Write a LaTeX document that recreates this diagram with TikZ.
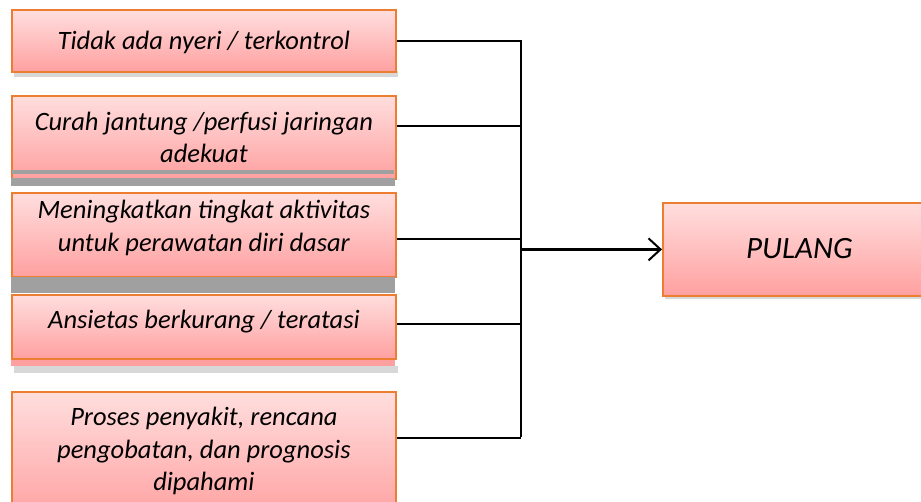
\documentclass[tikz,border=0pt]{standalone}
\usepackage{fontspec}
\setmainfont{Carlito}
\usetikzlibrary{arrows.meta}
\definecolor{boxline}{RGB}{237,125,49}
\definecolor{boxtop}{RGB}{255,222,222}
\definecolor{boxbottom}{RGB}{255,160,160}
\definecolor{darkshade}{RGB}{160,160,160}
\definecolor{lightshade}{RGB}{216,216,216}

\begin{document}
\begin{tikzpicture}[
      x = 1pt, y = -1pt,
      link/.style={line width = 2.6pt, black},
      goal/.style={
        draw = boxline,
        line width = 1.8pt,
        top color = boxtop,
        bottom color = boxbottom,
        align = center,
        font = \fontsize{26.5}{32.5}\selectfont\itshape,
        inner sep = 0pt,
        text height = 18pt,
        text depth = 0pt,
        minimum width = 384pt,
        anchor = north west,
      },
    ]
    \useasboundingbox (0, 0) rectangle (921, 502);
    \clip (0, 0) rectangle (921, 502);

    % shadows and grey strips behind the boxes
    \fill[lightshade] (14, 71) rectangle (398, 77);
    \fill[lightshade] (14, 366) rectangle (398, 373);
    \fill[lightshade] (665, 295) rectangle (921, 299);

    \node[goal, minimum height = 62pt] (tidak) at (11, 9)
      {Tidak ada nyeri / terkontrol};
    \node[goal, minimum height = 83pt, text height = 50.5pt] (curah) at (11, 95)
      {Curah jantung /perfusi jaringan\\adekuat};
    \fill[darkshade] (12, 170) rectangle (394, 174);
    \fill[darkshade] (11, 178) rectangle (395, 186);

    \node[goal, minimum height = 84pt, text height = 50.5pt, text depth = 17.5pt]
      (aktivitas) at (11, 192)
      {Meningkatkan tingkat aktivitas\\untuk perawatan diri dasar};
    \fill[darkshade] (11, 277) rectangle (395, 293);

    \fill[boxbottom] (11, 352) rectangle (395, 366);
    \node[goal, minimum height = 64pt, text depth = 14pt] (ansietas) at (11, 294)
      {Ansietas berkurang / teratasi};

    \node[goal, minimum height = 129pt, text height = 83pt, text depth = 14pt]
      (proses) at (11, 391)
      {Proses penyakit, rencana\\pengobatan, dan prognosis\\dipahami};

    \node[goal, minimum width = 273pt, minimum height = 93pt,
          font = \fontsize{31}{34}\selectfont\itshape] (pulang) at (662, 202)
      {PULANG};

    \coordinate (bustop) at (521, 40);
    \coordinate (busend) at (521, 437);

    % every box feeds the bus, the bus feeds PULANG
    \draw[link] (tidak.east) -- (tidak.east -| bustop);
    \draw[link] ([yshift = 11.5pt]curah.east) -- ([yshift = 11.5pt]curah.east -| bustop);
    \draw[link] ([yshift = -4pt]aktivitas.east) -- ([yshift = -4pt]aktivitas.east -| bustop);
    \draw[link] ([yshift = 3pt]ansietas.east) -- ([yshift = 3pt]ansietas.east -| bustop);
    \draw[link] ([yshift = 18.5pt]proses.east) -- ([yshift = 18.5pt]proses.east -| bustop);
    \draw[link] (bustop) -- (busend);
    \draw[link, -{Straight Barb[length = 12pt, width = 22pt, line width = 2pt]}]
      (pulang.west -| bustop) -- (pulang.west);
  \end{tikzpicture}
\end{document}
